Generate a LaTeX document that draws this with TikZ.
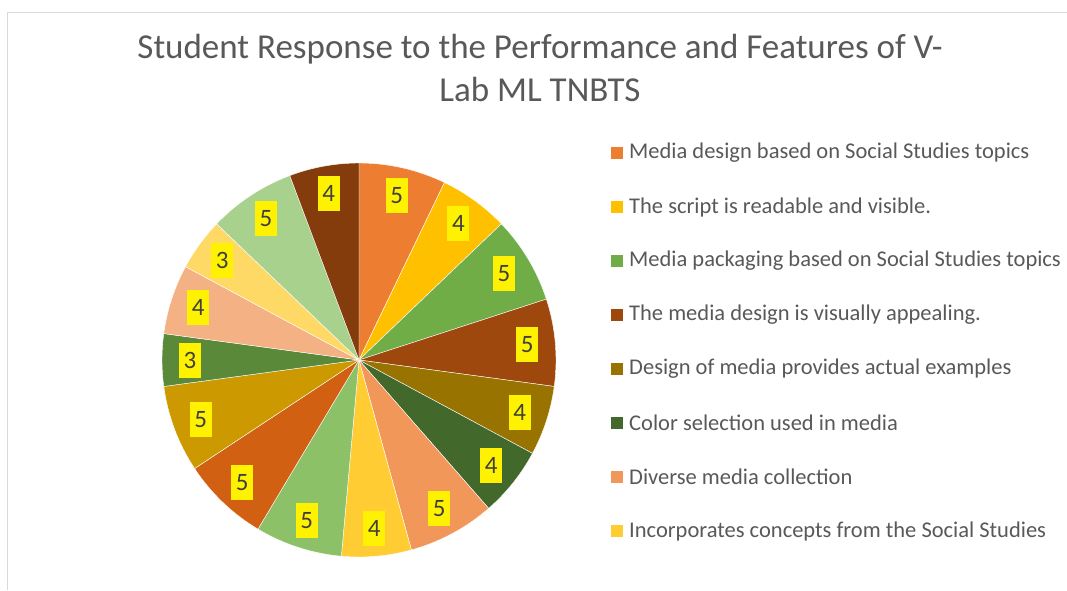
\documentclass[tikz,border=0pt]{standalone}
\usepackage{fontspec}
\setmainfont{Carlito}
\usetikzlibrary{calc}
\definecolor{txt}{HTML}{595959}
\definecolor{lbltxt}{HTML}{404040}
\definecolor{frame}{HTML}{D9D9D9}
\definecolor{s1}{HTML}{ED7D31}
\definecolor{s2}{HTML}{FFC000}
\definecolor{s3}{HTML}{70AD47}
\definecolor{s4}{HTML}{9E480E}
\definecolor{s5}{HTML}{997300}
\definecolor{s6}{HTML}{43682B}
\definecolor{s7}{HTML}{F1975A}
\definecolor{s8}{HTML}{FFCD33}
\definecolor{s9}{HTML}{8CC168}
\definecolor{s10}{HTML}{D26012}
\definecolor{s11}{HTML}{CC9A00}
\definecolor{s12}{HTML}{5A8A39}
\definecolor{s13}{HTML}{F4B183}
\definecolor{s14}{HTML}{FFD966}
\definecolor{s15}{HTML}{A9D18E}
\definecolor{s16}{HTML}{843C0C}
\tikzset{
  lbl/.style={fill=yellow, text=lbltxt, inner sep=0pt, minimum width=22pt, minimum height=35pt, font=\fontsize{25}{25}\selectfont},
  legsq/.style={minimum size=12pt, inner sep=0pt},
  legtxt/.style={anchor=west, text=txt, inner sep=0pt, font=\fontsize{22.5}{22.5}\selectfont},
  slice/.style={draw=white, line width=0.4pt}
}
\begin{document}
\begin{tikzpicture}[x=1pt,y=1pt]
\useasboundingbox (0,0) rectangle (1067,-590);
\fill[white] (0,0) rectangle (1067,-590);
\draw[frame, line width=1.5pt] (7.5,-590) -- (7.5,-12.5) -- (1067,-12.5);
\node[text=txt, align=center, font=\fontsize{35}{43}\selectfont] (title) at (540,-68)
  {Student Response to the Performance and Features of V-\\Lab ML TNBTS};
\coordinate (C) at (359,-360);
\foreach \a/\b/\col [count=\i] in {0/5/s1, 5/9/s2, 9/14/s3, 14/19/s4, 19/23/s5, 23/27/s6, 27/32/s7, 32/36/s8, 36/41/s9, 41/46/s10, 46/51/s11, 51/54/s12, 54/58/s13, 58/61/s14, 61/66/s15, 66/70/s16}{
  \pgfmathsetmacro{\sa}{90-\a*36/7}
  \pgfmathsetmacro{\ea}{90-\b*36/7}
  \filldraw[fill=\col, slice] (C) -- ($(C)+(\sa:197pt)$) arc[start angle=\sa, end angle=\ea, radius=197pt] -- cycle;
}
\foreach \a/\b/\v [count=\i] in {0/5/5, 5/9/4, 9/14/5, 14/19/5, 19/23/4, 23/27/4, 27/32/5, 32/36/4, 36/41/5, 41/46/5, 46/51/5, 51/54/3, 54/58/4, 58/61/3, 61/66/5, 66/70/4}{
  \pgfmathsetmacro{\ma}{90-(\a+\b)*18/7}
  \node[lbl] (l\i) at ($(C)+(\ma:169pt)$) {\v};
}
\foreach \t [count=\i] in {Media design based on Social Studies topics, The script is readable and visible., Media packaging based on Social Studies topics, The media design is visually appealing., Design of media provides actual examples, Color selection used in media, Diverse media collection, Incorporates concepts from the Social Studies}{
  \node[legsq, fill=s\i] (sq\i) at (616.5,{-153-54*(\i-1)}) {};
  \node[legtxt] (lt\i) at (629,{-153-54*(\i-1)}) {\t};
}
\end{tikzpicture}
\end{document}
